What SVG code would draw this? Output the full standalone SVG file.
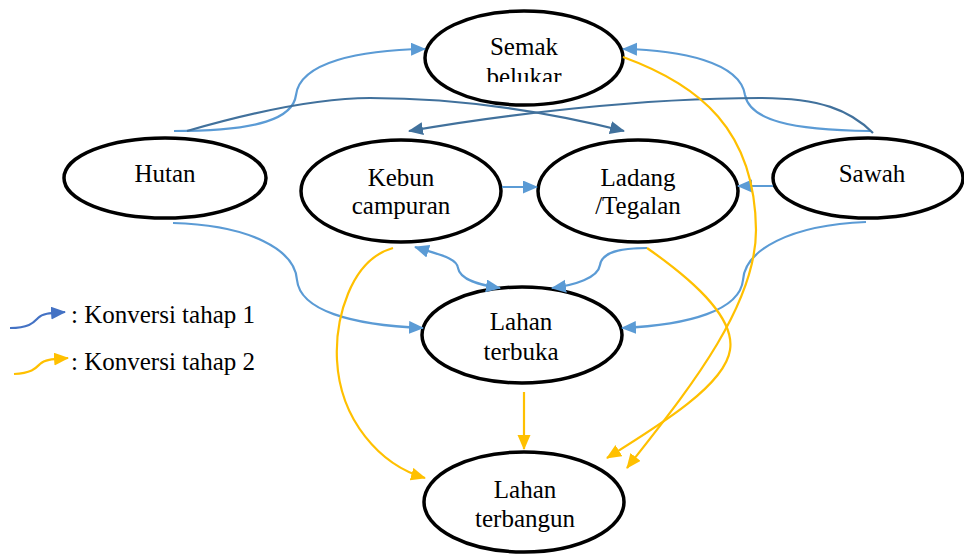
<svg xmlns="http://www.w3.org/2000/svg" width="964" height="554" viewBox="0 0 964 554">
<style>
.node{fill:#fff;stroke:#000;stroke-width:3.5}
.t{font-family:"Liberation Serif","Times New Roman",serif;font-size:25px;fill:#000;text-anchor:middle}
.lt{font-family:"Liberation Serif","Times New Roman",serif;font-size:25px;fill:#000}
.c{fill:none;stroke-width:2.2}
.lb{stroke:#5B9BD5}
.db{stroke:#41719C}
.yl{stroke:#FFC000}
</style>
<defs>
<marker id="mlb" markerUnits="userSpaceOnUse" markerWidth="16" markerHeight="14" refX="14" refY="6.5" orient="auto-start-reverse"><path d="M0,0 L15,6.5 L0,13 z" fill="#5B9BD5"/></marker>
<marker id="mdb" markerUnits="userSpaceOnUse" markerWidth="16" markerHeight="14" refX="14" refY="6.5" orient="auto-start-reverse"><path d="M0,0 L15,6.5 L0,13 z" fill="#41719C"/></marker>
<marker id="myl" markerUnits="userSpaceOnUse" markerWidth="16" markerHeight="14" refX="14" refY="6.5" orient="auto-start-reverse"><path d="M0,0 L15,6.5 L0,13 z" fill="#FFC000"/></marker>
<marker id="mleg" markerUnits="userSpaceOnUse" markerWidth="16" markerHeight="14" refX="14" refY="6.5" orient="auto"><path d="M0,0 L15,6.5 L0,13 z" fill="#4472C4"/></marker>
<clipPath id="clipSemak"><rect x="420" y="0" width="210" height="82"/></clipPath>
<clipPath id="clipTerbangun"><rect x="420" y="440" width="210" height="92"/></clipPath>
</defs>

<g id="nodes">
<g id="semak-belukar">
<ellipse class="node" cx="524" cy="58" rx="99" ry="47"/>
<g clip-path="url(#clipSemak)">
<text class="t" x="524" y="55">Semak</text>
<text class="t" x="524" y="85">belukar</text>
</g>
</g>
<g id="hutan">
<ellipse class="node" cx="165" cy="178" rx="101" ry="40"/>
<text class="t" x="165" y="182">Hutan</text>
</g>
<g id="kebun-campuran">
<ellipse class="node" cx="401" cy="191" rx="100" ry="51"/>
<text class="t" x="401" y="186">Kebun</text>
<text class="t" x="401" y="214">campuran</text>
</g>
<g id="ladang-tegalan">
<ellipse class="node" cx="638" cy="191" rx="100" ry="51"/>
<text class="t" x="638" y="186">Ladang</text>
<text class="t" x="638" y="214">/Tegalan</text>
</g>
<g id="sawah">
<ellipse class="node" cx="868" cy="178" rx="95" ry="40"/>
<text class="t" x="872" y="182">Sawah</text>
</g>
<g id="lahan-terbuka">
<ellipse class="node" cx="522" cy="335" rx="100" ry="48"/>
<text class="t" x="521" y="330">Lahan</text>
<text class="t" x="521" y="360">terbuka</text>
</g>
<g id="lahan-terbangun">
<ellipse class="node" cx="524" cy="502" rx="100" ry="50"/>
<g clip-path="url(#clipTerbangun)">
<text class="t" x="525" y="498">Lahan</text>
<text class="t" x="525" y="527">terbangun</text>
</g>
</g>
</g>

<g id="connectors">
<path class="c lb" d="M174,131 C260,131 293,118 296,95 C300,62 360,50 425,49" marker-end="url(#mlb)"/>
<path class="c lb" d="M870,131 C790,130 750,120 745,95 C740,62 680,50 623,49" marker-end="url(#mlb)"/>
<path class="c db" d="M187,131 C260,110 320,98 370,98 C450,98 540,110 624,131" marker-end="url(#mdb)"/>
<path class="c db" d="M873,133 C850,110 820,98 760,98 C640,98 500,115 409,131" marker-end="url(#mdb)"/>
<path class="c lb" d="M502,187 L537,187" marker-end="url(#mlb)"/>
<path class="c lb" d="M773,186 L738,186" marker-end="url(#mlb)"/>
<path class="c lb" d="M173,223 C250,225 295,250 297,280 C300,310 350,325 423,328" marker-end="url(#mlb)"/>
<path class="c lb" d="M866,222 C790,225 745,250 743,280 C740,310 690,325 622,328" marker-end="url(#mlb)"/>
<path class="c lb" d="M415,247 C440,255 457,258 458,268 C460,280 480,285 500,288" marker-start="url(#mlb)" marker-end="url(#mlb)"/>
<path class="c lb" d="M647,248 C620,248 602,252 600,265 C598,278 575,285 552,288" marker-end="url(#mlb)"/>
<path class="c yl" d="M623,57 C700,85 755,130 756,230 C756,310 680,400 627,468" marker-end="url(#myl)"/>
<path class="c yl" d="M647,248 C700,285 735,320 730,350 C725,385 660,425 607,458" marker-end="url(#myl)"/>
<path class="c yl" d="M393,248 C350,260 335,320 337,360 C340,420 380,465 425,478" marker-end="url(#myl)"/>
<path class="c yl" d="M524,392 L524,449" marker-end="url(#myl)"/>
</g>

<g id="legend">
<path fill="none" stroke="#4472C4" stroke-width="2.2" d="M10,328 C30,328 34,322 38,318 C43,313 52,313 65,312" marker-end="url(#mleg)"/>
<text class="lt" x="71" y="323">: Konversi tahap 1</text>
<path fill="none" stroke="#FFC000" stroke-width="2.2" d="M14,374 C32,373 36,368 40,364 C45,359 55,359 68,358" marker-end="url(#myl)"/>
<text class="lt" x="71" y="370">: Konversi tahap 2</text>
</g>
</svg>
